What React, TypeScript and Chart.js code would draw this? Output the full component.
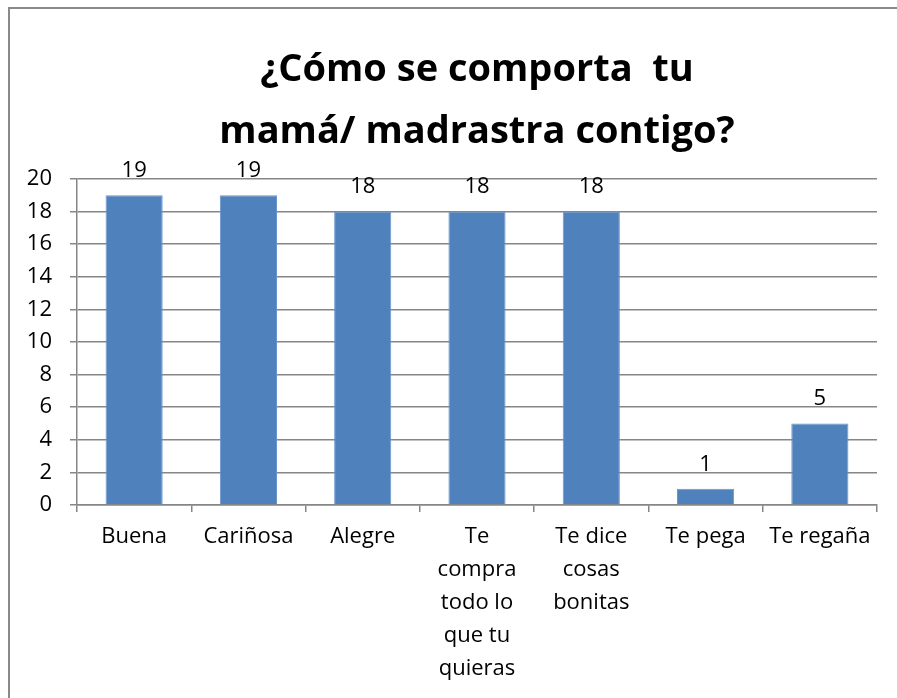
import React, { useEffect, useRef } from "react";
import { Chart, registerables } from "chart.js";

Chart.register(...registerables);

const categories: (string | string[])[] = [
  "Buena",
  "Cariñosa",
  "Alegre",
  ["Te", "compra", "todo lo", "que tu", "quieras"],
  ["Te dice", "cosas", "bonitas"],
  "Te pega",
  "Te regaña",
];
const values: number[] = [19, 19, 18, 18, 18, 1, 5];
const titleLines: string[] = ["¿Cómo se comporta  tu", "mamá/ madrastra contigo?"];
const yMin = 0;
const yMax = 20;
const yStep = 2;

const FONT = "'Open Sans'";
const GRID = "#868686";

const valueLabels = {
  id: "valueLabels",
  afterDatasetsDraw(chart: any) {
    const ctx = chart.ctx;
    const meta = chart.getDatasetMeta(0);
    ctx.save();
    ctx.font = `22px ${FONT}`;
    ctx.fillStyle = "#000";
    ctx.textAlign = "center";
    ctx.textBaseline = "alphabetic";
    meta.data.forEach((bar: any, i: number) => {
      ctx.fillText(String(values[i]), bar.x, bar.y - 18);
    });
    ctx.restore();
  },
};

export default function App() {
  const ref = useRef<HTMLCanvasElement | null>(null);
  useEffect(() => {
    if (!ref.current) return;
    const chart = new Chart(ref.current, {
      type: "bar",
      data: {
        labels: categories,
        datasets: [
          {
            data: values,
            backgroundColor: "#4F81BD",
            borderColor: "#6A95CC",
            borderWidth: 1,
            barPercentage: 0.5,
            categoryPercentage: 1,
          },
        ],
      },
      options: {
        responsive: false,
        animation: false,
        layout: { padding: { left: 0, right: 20, top: 0, bottom: 13 } },
        plugins: {
          legend: { display: false },
          tooltip: { enabled: false },
          title: {
            display: true,
            text: titleLines,
            fullSize: false,
            color: "#000",
            font: { family: FONT, size: 38, weight: "bold", lineHeight: 1.63 },
            padding: { top: 30, bottom: 16 },
          },
        },
        scales: {
          x: {
            afterFit: (s: any) => {
              s.height = 180;
            },
            grid: {
              offset: true,
              drawOnChartArea: false,
              drawTicks: true,
              tickLength: 7,
              color: GRID,
              lineWidth: 1.5,
            },
            border: { color: GRID, width: 1.5 },
            ticks: {
              color: "#000",
              font: { family: FONT, size: 22, lineHeight: 1.5 },
              padding: 8,
              maxRotation: 0,
              autoSkip: false,
            },
          },
          y: {
            min: yMin,
            max: yMax,
            afterFit: (s: any) => {
              s.width = 67;
            },
            grid: {
              drawOnChartArea: true,
              drawTicks: true,
              tickLength: 7,
              color: GRID,
              lineWidth: 1.5,
            },
            border: { color: GRID, width: 1.5 },
            ticks: {
              stepSize: yStep,
              color: "#000",
              font: { family: FONT, size: 22 },
              padding: 18,
            },
          },
        },
      },
      plugins: [valueLabels],
    });
    return () => chart.destroy();
  }, []);

  return (
    <div
      style={{
        position: "fixed",
        left: 8,
        top: 7,
        width: 889,
        height: 691,
        borderLeft: "2px solid #8a8a8a",
        borderTop: "2px solid #8a8a8a",
        boxSizing: "border-box",
        background: "#fff",
      }}
    >
      <canvas ref={ref} width={887} height={689} style={{ display: "block" }} />
    </div>
  );
}
